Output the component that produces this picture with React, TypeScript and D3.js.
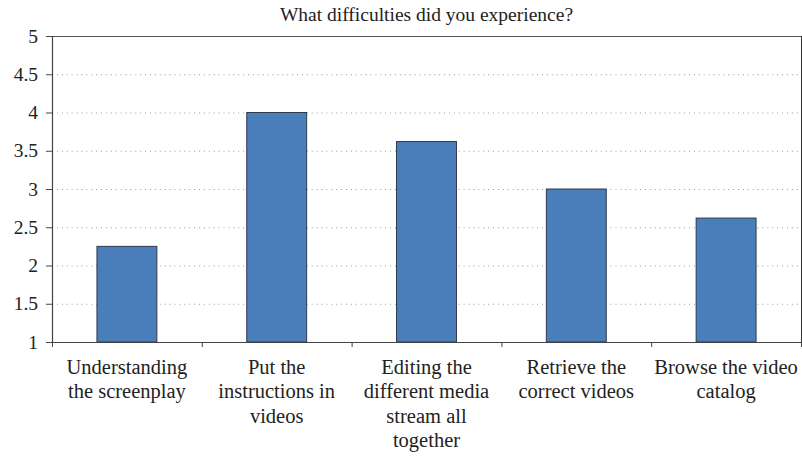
import React from "react";
import * as d3 from "d3";

const categories: string[][] = [
  ["Understanding", "the screenplay"],
  ["Put the", "instructions in", "videos"],
  ["Editing the", "different media", "stream all", "together"],
  ["Retrieve the", "correct videos"],
  ["Browse the video", "catalog"],
];
const values: number[] = [2.25, 4, 3.62, 3, 2.62];
const yTicks: number[] = [1, 1.5, 2, 2.5, 3, 3.5, 4, 4.5, 5];
const yTickLabels: string[] = ["1", "1.5", "2", "2.5", "3", "3.5", "4", "4.5", "5"];
const title = "What difficulties did you experience?";

const W = 802;
const H = 456;
const left = 52;
const right = 801;
const top = 36;
const bottom = 342;
const FONT = "Liberation Serif, DejaVu Serif, serif";

export default function App() {
  const x = d3
    .scaleBand<number>()
    .domain(d3.range(categories.length))
    .range([left, right])
    .paddingInner(0)
    .paddingOuter(0);
  const y = d3.scaleLinear().domain([1, 5]).range([bottom, top]);
  const bw = x.bandwidth() * 0.4;
  const boundaries = d3.range(categories.length + 1).map((i) => left + i * x.step());

  return (
    <svg
      width={W}
      height={H}
      style={{ position: "absolute", left: 0, top: 0, background: "#fff", fontFamily: FONT }}
    >
      <text x={(left + right) / 2} y={21} textAnchor="middle" fontSize={19.5} fill="#222">
        {title}
      </text>
      {yTicks.slice(1, -1).map((t) => (
        <line
          key={"g" + t}
          x1={left}
          x2={right}
          y1={y(t) + 0.5}
          y2={y(t) + 0.5}
          stroke="#9a9a9a"
          strokeWidth={1}
          strokeDasharray="1 3.9"
        />
      ))}
      <line x1={left} x2={right + 0.5} y1={top + 0.5} y2={top + 0.5} stroke="#555" strokeWidth={1} />
      <line x1={right + 0.5} x2={right + 0.5} y1={top} y2={bottom} stroke="#333" strokeWidth={1} />
      {values.map((v, i) => {
        const cx = (x(i) as number) + x.bandwidth() / 2;
        return (
          <rect
            key={"b" + i}
            x={cx - bw / 2}
            y={y(v)}
            width={bw}
            height={bottom - y(v)}
            fill="#4a7ebb"
            stroke="#2f3a48"
            strokeWidth={1}
          />
        );
      })}
      <line x1={left + 0.5} x2={left + 0.5} y1={top} y2={bottom + 0.5} stroke="#444" strokeWidth={1.2} />
      <line x1={left} x2={right + 1} y1={bottom + 0.5} y2={bottom + 0.5} stroke="#444" strokeWidth={1.2} />
      {yTicks.map((t, i) => (
        <g key={"yt" + t}>
          <line x1={left - 6} x2={left} y1={y(t) + 0.5} y2={y(t) + 0.5} stroke="#444" strokeWidth={1} />
          <text x={38} y={y(t) + 6.5} textAnchor="end" fontSize={19.5} fill="#222">
            {yTickLabels[i]}
          </text>
        </g>
      ))}
      {boundaries.map((bx, i) => (
        <line key={"xt" + i} x1={bx + 0.5} x2={bx + 0.5} y1={bottom} y2={bottom + 5} stroke="#444" strokeWidth={1} />
      ))}
      {categories.map((lines, i) => {
        const cx = (x(i) as number) + x.bandwidth() / 2;
        return (
          <text key={"c" + i} textAnchor="middle" fontSize={20.5} fill="#222">
            {lines.map((l, j) => (
              <tspan key={j} x={cx} y={373.5 + j * 24.5}>
                {l}
              </tspan>
            ))}
          </text>
        );
      })}
    </svg>
  );
}
